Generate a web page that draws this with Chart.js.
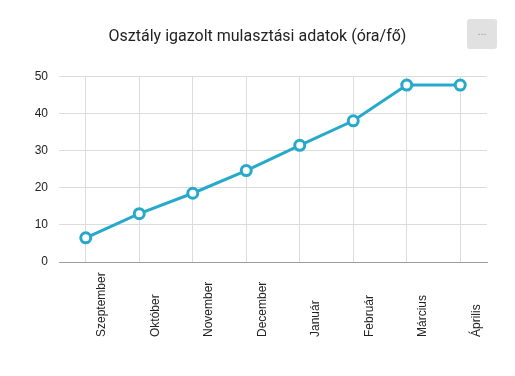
<!DOCTYPE html>
<html>
<head>
<meta charset="utf-8">
<script src="https://cdn.jsdelivr.net/npm/chart.js@4"></script>
<style>
  html, body { margin: 0; padding: 0; background: #fff; }
  #wrap { position: relative; width: 515px; height: 376px; }
  #menu { position: absolute; left: 467px; top: 19px; width: 30px; height: 30px; background: #e1e1e1; border-radius: 3px;
          color: #9a9a9a; font: 11px "Liberation Sans", Arial, sans-serif; text-align: center; line-height: 24px; }
</style>
</head>
<body>
<div id="wrap">
  <canvas id="c" width="515" height="376"></canvas>
  <div id="menu">...</div>
</div>
<script>
const categories = ['Szeptember', 'Október', 'November', 'December', 'Január', 'Február', 'Március', 'Április'];
const values = [6.5, 13.0, 18.5, 24.6, 31.4, 38.0, 47.6, 47.6];
const yTicks = [0, 10, 20, 30, 40, 50];
const titleText = 'Osztály igazolt mulasztási adatok (óra/fő)';

const labelFont = '12px "Liberation Sans", Arial, sans-serif';

const xLabelPlugin = {
  id: 'xLabels',
  afterDraw(chart) {
    const ctx = chart.ctx;
    const xs = chart.scales.x;
    ctx.save();
    ctx.font = labelFont;
    ctx.fillStyle = '#222';
    ctx.textAlign = 'left';
    ctx.textBaseline = 'middle';
    categories.forEach((lab, i) => {
      const px = xs.getPixelForValue(i) + 16;
      ctx.save();
      ctx.translate(px, xs.bottom - 39);
      ctx.rotate(-Math.PI / 2);
      ctx.fillText(lab, 0, 0);
      ctx.restore();
    });
    ctx.restore();
  }
};

new Chart(document.getElementById('c'), {
  type: 'line',
  data: {
    labels: categories,
    datasets: [{
      data: values,
      borderColor: '#27a9cc',
      borderWidth: 3,
      pointRadius: 5,
      pointBorderWidth: 3,
      pointBackgroundColor: '#fff',
      pointBorderColor: '#27a9cc',
      tension: 0
    }]
  },
  options: {
    responsive: false,
    animation: false,
    layout: { padding: 0 },
    plugins: {
      legend: { display: false },
      tooltip: { enabled: false },
      title: {
        display: true,
        text: titleText,
        color: '#222',
        font: { family: 'Roboto', size: 16, weight: 'normal', lineHeight: 1.2 },
        padding: { top: 27, bottom: 30 }
      }
    },
    scales: {
      x: {
        offset: true,
        grid: { offset: false, color: '#dcdcdc', drawTicks: false },
        border: { display: true, color: '#9e9e9e', width: 1 },
        ticks: { display: false },
        afterFit(scale) { scale.height = 114; }
      },
      y: {
        min: 0,
        max: 50,
        afterBuildTicks(scale) { scale.ticks = yTicks.map(v => ({ value: v })); },
        grid: { color: '#dcdcdc', drawTicks: false },
        border: { display: false },
        ticks: {
          color: '#222',
          font: { family: '"Liberation Sans", Arial, sans-serif', size: 12 },
          padding: 11
        },
        afterFit(scale) { scale.width = 59; }
      },
      yRight: {
        position: 'right',
        display: true,
        min: 0,
        max: 50,
        grid: { display: false, drawTicks: false },
        border: { display: false },
        ticks: { display: false },
        afterFit(scale) { scale.width = 28; }
      }
    }
  },
  plugins: [xLabelPlugin]
});
</script>
</body>
</html>
